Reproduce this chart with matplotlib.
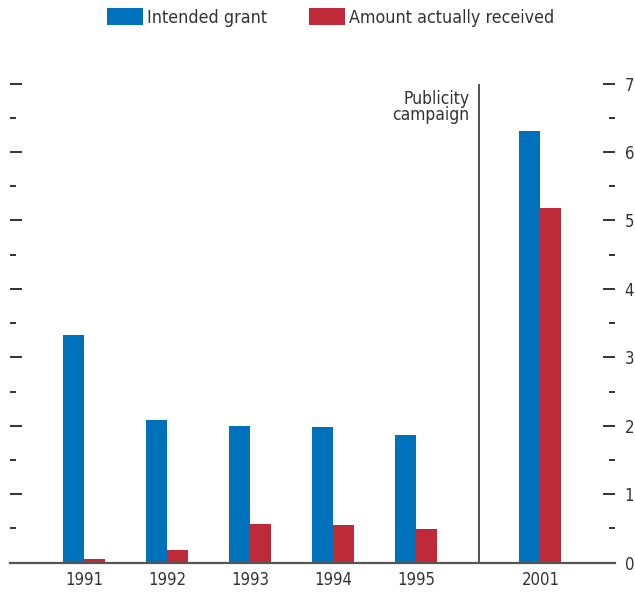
import matplotlib
matplotlib.use("Agg")
import matplotlib.pyplot as plt
from matplotlib.ticker import MultipleLocator
import numpy as np

years = ["1991", "1992", "1993", "1994", "1995", "2001"]
intended = [3.32, 2.09, 1.99, 1.98, 1.86, 6.30]
received = [0.05, 0.19, 0.56, 0.55, 0.49, 5.18]
positions = [0, 1, 2, 3, 4, 5.5]
campaign_x = 4.76
series_names = ["Intended grant", "Amount actually received"]

BLUE = "#0072BC"
RED = "#BF2A38"
TXT = "#333333"

plt.rcParams['font.family'] = ['DejaVu Sans']
plt.rcParams['font.stretch'] = 'condensed'

fig = plt.figure(figsize=(6.35, 5.94), dpi=100)
ax = fig.add_axes([10/635, (594-562.7)/594, 605/635, (562.7-83.5)/594])

w = 0.253
ax.bar(positions, intended, width=-w, align='edge', color=BLUE, label=series_names[0], zorder=2)
ax.bar(positions, received, width=w, align='edge', color=RED, label=series_names[1], zorder=2)

ax.set_xlim(-0.892, 6.398)
ax.set_ylim(0, 7)

for s in ['top', 'left', 'right']:
    ax.spines[s].set_visible(False)
ax.spines['bottom'].set_color('#555555')
ax.spines['bottom'].set_linewidth(1.6)

ax.set_xticks(positions)
ax.set_xticklabels(years, fontsize=12, color=TXT)
ax.tick_params(axis='x', length=0, pad=6)

ax.yaxis.set_major_locator(MultipleLocator(1))
ax.yaxis.set_minor_locator(MultipleLocator(0.5))
ax.tick_params(axis='y', which='both', direction='in', left=True, right=True,
               labelleft=False, labelright=True, color='#333333', labelsize=12,
               labelcolor=TXT, pad=7)
ax.tick_params(axis='y', which='major', length=8.6, width=1.4)
ax.tick_params(axis='y', which='minor', length=4.3, width=1.4)

ax.axvline(campaign_x, ymin=0, ymax=1, color='#222222', linewidth=1.1, zorder=1)
ax.annotate("Publicity\ncampaign", xy=(campaign_x, 7), xytext=(-7, -5),
            textcoords='offset points', ha='right', va='top', fontsize=12.5,
            color=TXT, linespacing=0.85)

fs = 12.8
fig.legend(loc='center', bbox_to_anchor=(331/635, 1 - 17.5/594), ncol=2, frameon=False,
           fontsize=fs, handlelength=36/(fs*100/72), handleheight=19/(fs*100/72),
           handletextpad=4/(fs*100/72), columnspacing=42/(fs*100/72),
           labelcolor=TXT, borderpad=0)

fig.savefig("out.png", dpi=100)
